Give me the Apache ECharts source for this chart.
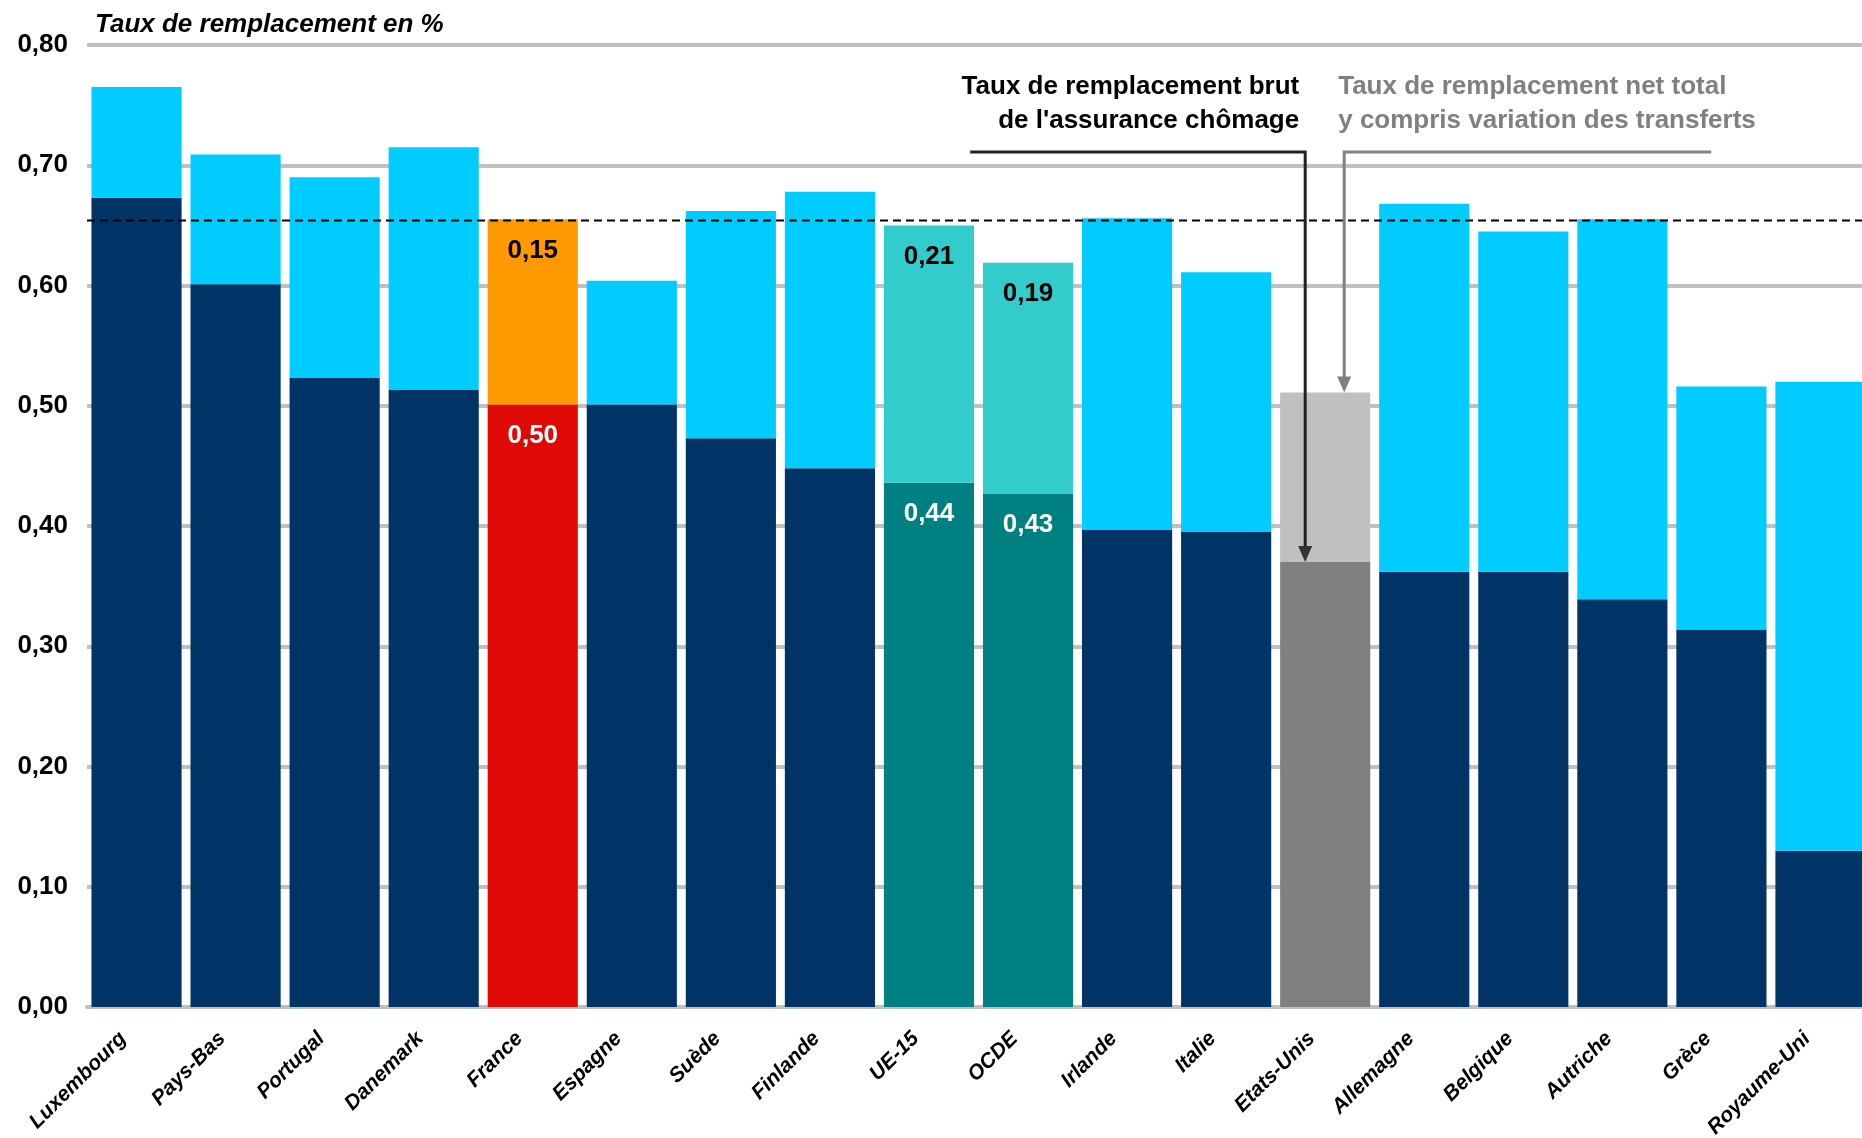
<!DOCTYPE html>
<html>
<head>
<meta charset="utf-8">
<script src="https://cdn.jsdelivr.net/npm/echarts@6/dist/echarts.min.js"></script>
<style>
  html, body { margin: 0; padding: 0; background: #fff; }
  #chart { width: 1862px; height: 1138px; }
</style>
</head>
<body>
<div id="chart"></div>
<script>
// pays et agrégats, dans l'ordre du graphique
const categories = ['Luxembourg', 'Pays-Bas', 'Portugal', 'Danemark', 'France', 'Espagne', 'Suède', 'Finlande',
  'UE-15', 'OCDE', 'Irlande', 'Italie', 'Etats-Unis', 'Allemagne', 'Belgique', 'Autriche', 'Grèce', 'Royaume-Uni']
// taux de remplacement brut de l'assurance chômage
const brut = [0.673, 0.601, 0.523, 0.513, 0.501, 0.501, 0.473, 0.448,
  0.436, 0.427, 0.397, 0.395, 0.370, 0.362, 0.362, 0.339, 0.314, 0.130]
// taux de remplacement net total y compris variation des transferts
const netTotal = [0.765, 0.709, 0.690, 0.715, 0.655, 0.604, 0.662, 0.678,
  0.650, 0.619, 0.656, 0.611, 0.511, 0.668, 0.645, 0.655, 0.516, 0.520]
// ligne pointillée : niveau de la France
const refLine = 0.654
const yMin = 0
const yMax = 0.8
const yStep = 0.1

// couleurs [brut, écart] des barres mises en avant
const highlight = {
  'France': ['#DF0A06', '#FF9900'],
  'UE-15': ['#008080', '#33CCCC'],
  'OCDE': ['#008080', '#33CCCC'],
  'Etats-Unis': ['#808080', '#C0C0C0']
}
const withLabels = ['France', 'UE-15', 'OCDE']
const FONT = '"Liberation Sans", Arial, sans-serif'

const fmt = v => v.toFixed(2).replace('.', ',')
const ecart = netTotal.map((v, i) => +(v - brut[i]).toFixed(3))

const baseData = categories.map((c, i) => ({
  value: brut[i],
  itemStyle: { color: highlight[c] ? highlight[c][0] : '#003366' },
  label: { show: withLabels.includes(c), color: '#fff' }
}))
const topData = categories.map((c, i) => ({
  value: ecart[i],
  itemStyle: { color: highlight[c] ? highlight[c][1] : '#00CCFF' },
  label: { show: withLabels.includes(c), color: '#000' }
}))

const labelStyle = {
  position: 'insideTop',
  distance: 18,
  fontFamily: FONT,
  fontWeight: 'bold',
  fontSize: 26,
  formatter: p => fmt(p.value)
}

const myChart = echarts.init(document.getElementById('chart'))
myChart.setOption({
  animation: false,
  textStyle: { fontFamily: FONT },
  grid: { left: 87, top: 45, width: 1783, height: 962, containLabel: false, outerBoundsMode: 'none' },
  title: {
    text: 'Taux de remplacement en %',
    left: 90, top: 7,
    textStyle: { fontFamily: FONT, fontSize: 26, fontWeight: 'bold', fontStyle: 'italic', color: '#000' }
  },
  xAxis: {
    type: 'category',
    data: categories,
    axisTick: { show: false },
    axisLine: { lineStyle: { color: '#C0C0C0', width: 4 } },
    axisLabel: {
      interval: 0,
      rotate: 45,
      margin: 15,
      padding: [0, 19, 0, 0],
      color: '#000',
      fontFamily: FONT,
      fontSize: 21,
      fontWeight: 'bold',
      fontStyle: 'italic'
    }
  },
  yAxis: {
    type: 'value',
    min: yMin,
    max: yMax,
    interval: yStep,
    axisLine: { show: false },
    axisTick: { show: false },
    splitLine: { lineStyle: { color: '#C0C0C0', width: 4 } },
    axisLabel: {
      margin: 19,
      color: '#000',
      fontFamily: FONT,
      fontSize: 26,
      fontWeight: 'bold',
      formatter: v => fmt(v)
    }
  },
  series: [{
    name: 'brut',
    type: 'bar',
    stack: 'total',
    barCategoryGap: '9%',
    data: baseData,
    label: labelStyle
  }, {
    name: 'ecart',
    type: 'bar',
    stack: 'total',
    data: topData,
    label: labelStyle
  }]
})

// ligne de référence et annotations fléchées vers la barre des Etats-Unis
function drawNotes () {
  const grid = myChart.getModel().getComponent('grid').coordinateSystem.getRect()
  const yRef = myChart.convertToPixel({ yAxisIndex: 0 }, refLine)
  const us = categories.indexOf('Etats-Unis')
  const pBrut = myChart.convertToPixel({ xAxisIndex: 0, yAxisIndex: 0 }, [us, brut[us]])
  const pNet = myChart.convertToPixel({ xAxisIndex: 0, yAxisIndex: 0 }, [us, netTotal[us]])
  const cx = pBrut[0]
  const lineY = 152
  const xDark = cx - 20
  const xGray = cx + 19
  const head = (x, yTip, color) => ({
    type: 'polygon',
    z: 100,
    shape: { points: [[x - 7, yTip - 16], [x + 7, yTip - 16], [x, yTip]] },
    style: { fill: color }
  })
  const noteFont = 'bold 26px ' + FONT
  myChart.setOption({
    graphic: [
      { type: 'line', z: 90, shape: { x1: grid.x, y1: yRef, x2: grid.x + grid.width, y2: yRef },
        style: { stroke: '#000', lineWidth: 2, lineDash: [8, 5] } },
      { type: 'polyline', z: 100, shape: { points: [[cx - 355, lineY], [xDark, lineY], [xDark, pBrut[1] - 12]] },
        style: { stroke: '#222', lineWidth: 3, fill: null } },
      head(xDark, pBrut[1], '#333'),
      { type: 'polyline', z: 100, shape: { points: [[cx + 386, lineY], [xGray, lineY], [xGray, pNet[1] - 12]] },
        style: { stroke: '#808080', lineWidth: 3, fill: null } },
      head(xGray, pNet[1], '#808080'),
      { type: 'text', z: 100, x: cx - 26, y: 87,
        style: { text: 'Taux de remplacement brut', font: noteFont, fill: '#000', align: 'right', verticalAlign: 'middle' } },
      { type: 'text', z: 100, x: cx - 26, y: 121,
        style: { text: 'de l\'assurance chômage', font: noteFont, fill: '#000', align: 'right', verticalAlign: 'middle' } },
      { type: 'text', z: 100, x: cx + 13, y: 87,
        style: { text: 'Taux de remplacement net total', font: noteFont, fill: '#808080', align: 'left', verticalAlign: 'middle' } },
      { type: 'text', z: 100, x: cx + 13, y: 121,
        style: { text: 'y compris variation des transferts', font: noteFont, fill: '#808080', align: 'left', verticalAlign: 'middle' } }
    ]
  })
}
drawNotes()
</script>
</body>
</html>
